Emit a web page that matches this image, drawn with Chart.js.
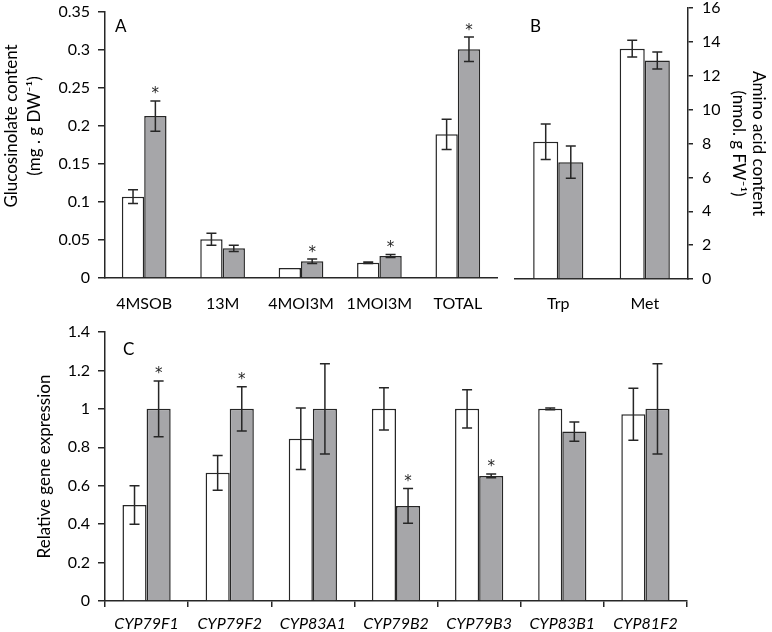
<!DOCTYPE html>
<html>
<head>
<meta charset="utf-8">
<script src="https://cdn.jsdelivr.net/npm/chart.js"></script>
<style>
  body { margin: 0; background: #fff; }
  .panel { position: absolute; }
</style>
</head>
<body>
<div class="panel" style="left:0;top:0"><canvas id="chartA" width="500" height="318"></canvas></div>
<div class="panel" style="left:500px;top:0"><canvas id="chartB" width="272" height="318"></canvas></div>
<div class="panel" style="left:0;top:320px"><canvas id="chartC" width="772" height="312"></canvas></div>

<script>
    // panel A - glucosinolates
    const catsA = ['4MSOB', '13M', '4MOI3M', '1MOI3M', 'TOTAL'];
    const ctrlA = [0.107, 0.051, 0.013, 0.020, 0.189];
    const treatA = [0.213, 0.039, 0.022, 0.029, 0.301];
    const ctrlErrA = [0.009, 0.008, 0, 0.001, 0.020];
    const treatErrA = [0.020, 0.004, 0.003, 0.002, 0.016];
    const starA = [true, false, true, true, true];
    const ticksA = [0, 0.05, 0.1, 0.15, 0.2, 0.25, 0.3, 0.35];

    // panel B - amino acids
    const catsB = ['Trp', 'Met'];
    const ctrlB = [8.1, 13.6];
    const treatB = [6.9, 12.9];
    const ctrlErrB = [1.05, 0.5];
    const treatErrB = [0.95, 0.5];
    const starB = [false, false];
    const ticksB = [0, 2, 4, 6, 8, 10, 12, 14, 16];

    // panel C - gene expression
    const catsC = ['CYP79F1', 'CYP79F2', 'CYP83A1', 'CYP79B2', 'CYP79B3', 'CYP83B1', 'CYP81F2'];
    const ctrlC = [0.50, 0.667, 0.845, 1, 1, 1, 0.972];
    const treatC = [1, 1, 1, 0.495, 0.651, 0.882, 1];
    const ctrlErrC = [0.10, 0.09, 0.16, 0.11, 0.10, 0.004, 0.135];
    const treatErrC = [0.145, 0.115, 0.235, 0.09, 0.01, 0.05, 0.235];
    const starC = [true, true, false, true, true, false, false];
    const ticksC = [0, 0.2, 0.4, 0.6, 0.8, 1, 1.2, 1.4];

    const FONT = 'Lato';
    const INK = '#262626';
    const GREY = '#a6a6a9';

    function errorPlugin(errs, stars, letter, lx, ly) {
        return {
            id: 'errbars',
            afterDatasetsDraw(chart) {
                const ctx = chart.ctx;
                const ys = chart.scales.y;
                ctx.save();
                ctx.strokeStyle = INK;
                ctx.lineWidth = 1.5;
                for (let d = 0; d < 2; d++) {
                    let meta = chart.getDatasetMeta(d);
                    let vals = chart.data.datasets[d].data;
                    meta.data.forEach(function (bar, i) {
                        let e = errs[d][i];
                        if (!e) return;
                        let top = ys.getPixelForValue(vals[i] + e);
                        let bot = ys.getPixelForValue(vals[i] - e);
                        ctx.beginPath();
                        ctx.moveTo(bar.x, top); ctx.lineTo(bar.x, bot);
                        ctx.moveTo(bar.x - 5, top); ctx.lineTo(bar.x + 5, top);
                        ctx.moveTo(bar.x - 5, bot); ctx.lineTo(bar.x + 5, bot);
                        ctx.stroke();
                        if (d == 1 && stars[i]) {
                            ctx.fillStyle = INK;
                            ctx.font = '15px "DejaVu Sans"';
                            ctx.textAlign = 'center';
                            ctx.textBaseline = 'alphabetic';
                            ctx.fillText('*', bar.x, top - 2.5);
                        }
                    });
                }
                ctx.fillStyle = '#000';
                ctx.font = '17px ' + FONT;
                ctx.textAlign = 'left';
                ctx.textBaseline = 'middle';
                ctx.fillText(letter, chart.chartArea.left + lx, chart.chartArea.top + ly);
                ctx.restore();
            }
        };
    }

    // nudge the left title of panel A upward like in the figure
    const shiftTitle = {
        id: 'shiftTitle',
        beforeDraw(chart) {
            let s = chart.scales.y;
            if (s._shifted) return;
            let orig = s.drawTitle.bind(s);
            s.drawTitle = function () {
                this.ctx.save();
                this.ctx.translate(0, -19);
                orig();
                this.ctx.restore();
            };
            s._shifted = true;
        }
    };

    function datasets(ctrl, treat) {
        return [
            {data: ctrl, backgroundColor: '#ffffff', borderColor: INK, borderWidth: 1.5},
            {data: treat, backgroundColor: GREY, borderColor: INK, borderWidth: 1.5}
        ];
    }

    // fixed axis sizes, no extra room for half labels
    function fixY(w) {
        return s => { s.width = w; s.paddingTop = 0; s.paddingBottom = 0; };
    }

    const tickFont = {family: FONT, size: 16};
    const titleFont = {family: FONT, size: 17, lineHeight: 1.35};

    // A
    new Chart(document.getElementById('chartA'), {
        type: 'bar',
        data: {labels: catsA, datasets: datasets(ctrlA, treatA)},
        options: {
            responsive: false, animation: false, devicePixelRatio: 1,
            categoryPercentage: 0.57, barPercentage: 1,
            layout: {padding: {top: 12, right: 3, left: 0, bottom: 0}},
            plugins: {legend: {display: false}, tooltip: {enabled: false}},
            scales: {
                x: {
                    afterFit: s => { s.height = 40; },
                    grid: {display: false, drawTicks: false},
                    border: {display: true, color: INK, width: 1.5},
                    ticks: {font: tickFont, color: '#000', padding: 16, maxRotation: 0, autoSkip: false}
                },
                y: {
                    min: 0, max: 0.35,
                    afterBuildTicks: s => { s.ticks = ticksA.map(v => ({value: v})); },
                    afterFit: fixY(105),
                    ticks: {font: tickFont, color: '#000', padding: 8, callback: v => String(v)},
                    grid: {drawOnChartArea: false, drawTicks: true, tickLength: 7, color: INK, lineWidth: 1.5},
                    border: {display: true, color: INK, width: 1.5},
                    title: {display: true, text: ['Glucosinolate content', '(mg . g DW\u207B\u00B9)'], font: titleFont, color: '#000', padding: {top: 0, bottom: 0}}
                }
            }
        },
        plugins: [errorPlugin([ctrlErrA, treatErrA], starA, 'A', 10, 15), shiftTitle]
    });

    // B
    new Chart(document.getElementById('chartB'), {
        type: 'bar',
        data: {labels: catsB, datasets: datasets(ctrlB, treatB)},
        options: {
            responsive: false, animation: false, devicePixelRatio: 1,
            categoryPercentage: 0.58, barPercentage: 1,
            layout: {padding: {top: 8, right: 0, left: 15, bottom: 0}},
            plugins: {legend: {display: false}, tooltip: {enabled: false}},
            scales: {
                x: {
                    afterFit: s => { s.height = 39; },
                    grid: {display: false, drawTicks: false},
                    border: {display: true, color: INK, width: 1.5},
                    ticks: {font: tickFont, color: '#000', padding: 15, maxRotation: 0, autoSkip: false}
                },
                y: {
                    position: 'right',
                    min: 0, max: 16,
                    afterBuildTicks: s => { s.ticks = ticksB.map(v => ({value: v})); },
                    afterFit: fixY(84),
                    ticks: {font: tickFont, color: '#000', padding: 9, callback: v => String(v)},
                    grid: {drawOnChartArea: false, drawTicks: true, tickLength: 5, color: INK, lineWidth: 1.5},
                    border: {display: true, color: INK, width: 1.5},
                    title: {display: true, text: ['Amino acid content', '(nmol. g FW\u207B\u00B9)'], font: {family: FONT, size: 17, lineHeight: 1.15}, color: '#000', padding: {top: 4, bottom: 0}}
                }
            }
        },
        plugins: [errorPlugin([ctrlErrB, treatErrB], starB, 'B', 15, 19)]
    });

    // C
    new Chart(document.getElementById('chartC'), {
        type: 'bar',
        data: {labels: catsC, datasets: datasets(ctrlC, treatC)},
        options: {
            responsive: false, animation: false, devicePixelRatio: 1,
            categoryPercentage: 0.58, barPercentage: 1,
            layout: {padding: {top: 12, right: 85, left: 0, bottom: 0}},
            plugins: {legend: {display: false}, tooltip: {enabled: false}},
            scales: {
                x: {
                    afterFit: s => { s.height = 31; },
                    grid: {drawOnChartArea: false, drawTicks: true, tickLength: 6, color: INK, lineWidth: 1.5},
                    border: {display: true, color: INK, width: 1.5},
                    ticks: {font: {family: FONT, size: 16, style: 'italic'}, color: '#000', padding: 7, maxRotation: 0, autoSkip: false}
                },
                y: {
                    min: 0, max: 1.4,
                    afterBuildTicks: s => { s.ticks = ticksC.map(v => ({value: v})); },
                    afterFit: fixY(105),
                    ticks: {font: tickFont, color: '#000', padding: 8, callback: v => String(v)},
                    grid: {drawOnChartArea: false, drawTicks: true, tickLength: 7, color: INK, lineWidth: 1.5},
                    border: {display: true, color: INK, width: 1.5},
                    title: {display: true, text: 'Relative gene expression', font: titleFont, color: '#000', padding: {top: 33, bottom: 0}}
                }
            }
        },
        plugins: [errorPlugin([ctrlErrC, treatErrC], starC, 'C', 18, 18)]
    });
</script>
</body>
</html>
